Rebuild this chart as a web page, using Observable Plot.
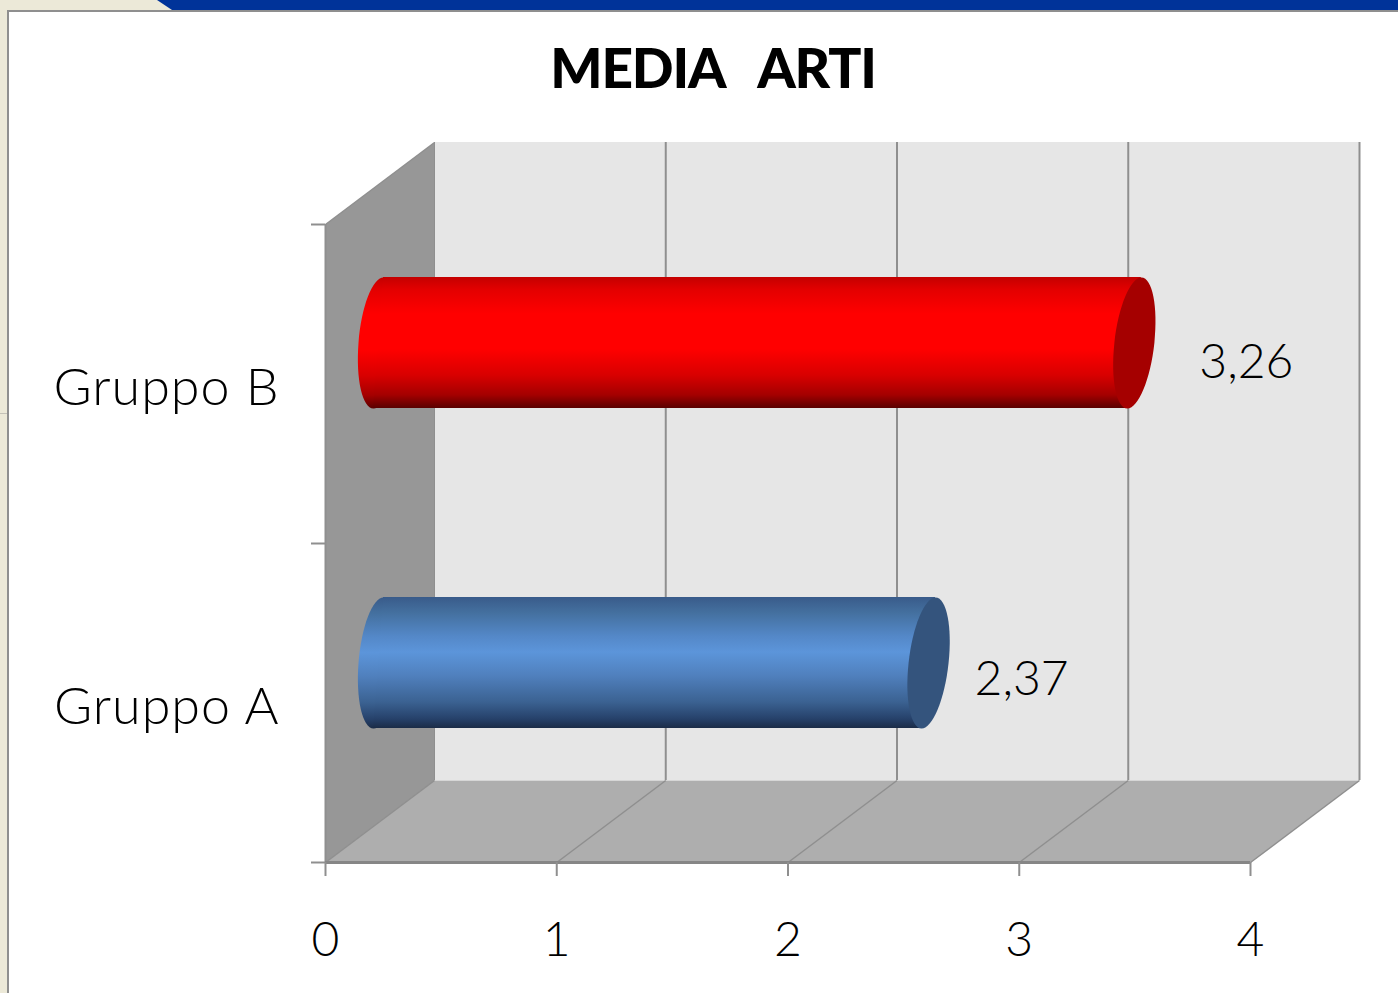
<!DOCTYPE html>
<html><head><meta charset="utf-8">
<script src="https://cdn.jsdelivr.net/npm/d3@7"></script>
<script src="https://cdn.jsdelivr.net/npm/@observablehq/plot@0.6"></script>
<style>
html,body{margin:0;padding:0;background:#fff;overflow:hidden;width:1398px;height:993px;position:relative}
.chrome{position:absolute}
#title{position:absolute;left:0;top:31px;width:1426px;text-align:center;font:900 55px/72px "Lato","Open Sans",sans-serif;color:#000;white-space:pre;margin:0;letter-spacing:-1.2px}
svg{position:absolute;left:0;top:0;background:transparent!important}
#chart text{font-weight:300}
#chart g[aria-label="y-axis tick label"] text{letter-spacing:1px}
</style></head><body>
<div class="chrome" style="left:0;top:0;width:1398px;height:10px;background:#ece9d8"></div>
<div class="chrome" style="left:157px;top:0;width:1241px;height:10px;background:#003399;clip-path:polygon(0 0,100% 0,100% 100%,15px 100%)"></div>
<div class="chrome" style="left:0;top:0;width:7px;height:993px;background:#ece9d8"></div>
<div class="chrome" style="left:7px;top:10px;width:1391px;height:2px;background:#8f8f8f"></div>
<div class="chrome" style="left:7px;top:10px;width:2px;height:983px;background:#8f8f8f"></div>
<div class="chrome" style="left:0;top:413px;width:7px;height:1px;background:#c4c2b8"></div>
<h1 id="title">MEDIA   ARTI</h1>
<div id="chart"></div>
<script>
const categories = ["Gruppo A", "Gruppo B"];
const values = [2.37, 3.26];
const labels = ["2,37", "3,26"];
const xTicks = [0, 1, 2, 3, 4];
const yTicks = [0, 1, 2];
const catPos = [0.5, 1.5];
const barFills = ["url(#cylBlue)", "url(#cylRed)"];
const capFills = ["#34547d", "#a50000"];
const barDy = [-40, -41];

// depth of the 3D box, in data units of each axis
const depthX = 109 / 231.25, depthY = 82 / 319;
const halfBar = 65.5 / 319;
const px = 1 / 231.25;

const bars = categories.map((c, i) => ({c, v: values[i], pos: catPos[i], fill: barFills[i], cap: capFills[i], label: labels[i], dy: barDy[i]}));

const wallLeft = [[0, 2], [depthX, 2 + depthY], [depthX, depthY], [0, 0]];
const floorPoly = [[0, 0], [4, 0], [4 + depthX, depthY], [depthX, depthY]];

const ellipse = (shear) => ({draw(ctx) {
  const rx = 20, ry = 65.5, sh = shear / 65.5, k = 0.5523;
  const P = (x, y) => [x - y * sh, y];
  const seg = (a, b, c) => ctx.bezierCurveTo(...P(...a), ...P(...b), ...P(...c));
  ctx.moveTo(...P(rx, 0));
  seg([rx, k * ry], [k * rx, ry], [0, ry]);
  seg([-k * rx, ry], [-rx, k * ry], [-rx, 0]);
  seg([-rx, -k * ry], [-k * rx, -ry], [0, -ry]);
  seg([k * rx, -ry], [rx, -k * ry], [rx, 0]);
  ctx.closePath();
}});

function gradient(defs, id, stops) {
  const g = defs.append("linearGradient").attr("id", id).attr("x1", 0).attr("y1", 0).attr("x2", 0).attr("y2", 1);
  stops.forEach(([o, c]) => g.append("stop").attr("offset", o).attr("stop-color", c));
}
const defsMark = () => {
  const defs = d3.create("svg:defs");
  gradient(defs, "cylRed", [[0,"#c40000"],[0.1,"#e40000"],[0.28,"#ff0000"],[0.55,"#ff0000"],[0.75,"#d80000"],[0.9,"#a40000"],[0.97,"#700000"],[1,"#5a0000"]]);
  gradient(defs, "cylBlue", [[0,"#395b8a"],[0.12,"#44709f"],[0.3,"#5488c8"],[0.42,"#5c95da"],[0.6,"#5080bd"],[0.8,"#3b6292"],[0.93,"#26416a"],[1,"#1b2c47"]]);
  return defs.node();
};

const gray = "#8f8f8f";
const FONT = "Lato, 'Open Sans', sans-serif";
const barBody = d => [
  {x1: -7 * px, x2: d.v - 7 * px, y: d.pos - halfBar},
  {x1: 3 * px, x2: d.v + 7 * px, y: d.pos + halfBar}
];

const marks = [
  defsMark,
  // back wall
  Plot.rect([0], {x1: 0, x2: 4, y1: 0, y2: 2, dx: 109, dy: -82, fill: "#e6e6e6"}),
  // left wall and floor
  Plot.line(wallLeft, {x: d => d[0], y: d => d[1], fill: "#979797", stroke: "none"}),
  Plot.line(floorPoly, {x: d => d[0], y: d => d[1], fill: "#aeaeae", stroke: "none"}),
  // gridlines on the back wall
  Plot.ruleX(xTicks.slice(1), {y1: 0, y2: 2, dx: 109, dy: -82, stroke: gray, strokeWidth: 2}),
  // gridlines on the floor
  Plot.link(xTicks, {x1: d => d, y1: 0, x2: d => d + depthX, y2: depthY, stroke: gray, strokeWidth: 1.5}),
  // wall edges
  Plot.ruleX([0], {y1: 0, y2: 2, stroke: gray, strokeWidth: 2}),
  Plot.ruleX([0], {y1: 0, y2: 2, dx: 109, dy: -82, stroke: "#8f8f8f", strokeWidth: 1}),
  Plot.link([0], {x1: 0, y1: 2, x2: depthX, y2: 2 + depthY, stroke: gray, strokeWidth: 1.5}),
  Plot.ruleY([0], {x1: 0, x2: 4, stroke: "#868686", strokeWidth: 3}),
  // cylinders
  ...bars.flatMap(d => [
    Plot.dot([d], {x: () => 0, y: "pos", dx: 53, dy: d.dy, r: 1, symbol: ellipse(5), fill: d.fill, stroke: "none"}),
    Plot.areaX(barBody(d), {x1: "x1", x2: "x2", y: "y", dx: 55, dy: d.dy, fill: d.fill, stroke: "none"}),
    Plot.dot([d], {x: "v", y: "pos", dx: 55, dy: d.dy, r: 1, symbol: ellipse(7), fill: d.cap, stroke: "none"})
  ]),
  // value labels
  Plot.text([bars[1]], {x: "v", y: "pos", text: "label", dx: 167, dy: -21, fontSize: 48, fontFamily: FONT, fill: "#000"}),
  Plot.text([bars[0]], {x: "v", y: "pos", text: "label", dx: 148, dy: -23, fontSize: 48, fontFamily: FONT, fill: "#000"}),
  // axes
  Plot.axisX({ticks: xTicks, tickSize: 14, tickPadding: 45, tickFormat: d => String(d), stroke: gray, strokeWidth: 2, fontSize: 48, fontFamily: FONT, fill: "#000", label: null, textStroke: "none", anchor: "bottom"}),
  Plot.axisY({ticks: yTicks, tickSize: 14, tickFormat: () => "", stroke: gray, strokeWidth: 2, label: null, anchor: "left"}),
  Plot.axisY({ticks: catPos, tickSize: 0, tickPadding: 46, tickFormat: d => categories[catPos.indexOf(d)], fontSize: 52, fontFamily: FONT, fill: "#000", label: null, anchor: "left", dy: 4})
];

const plot = Plot.plot({
  width: 1398, height: 993,
  marginLeft: 325, marginRight: 148, marginTop: 224, marginBottom: 131,
  x: {domain: [0, 4], axis: null},
  y: {domain: [0, 2], axis: null},
  style: {background: "transparent", overflow: "visible"},
  marks
});
document.getElementById("chart").appendChild(plot);
</script>
</body></html>
